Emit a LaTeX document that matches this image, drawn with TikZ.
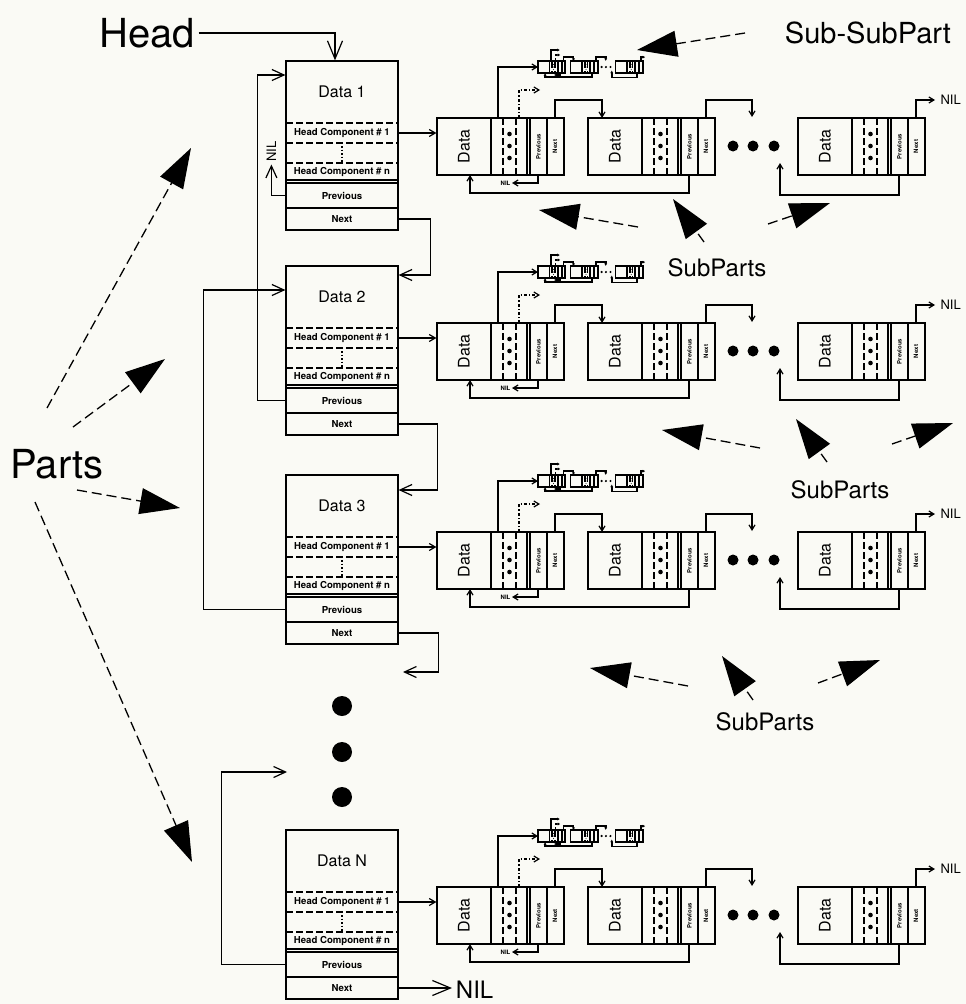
\documentclass[tikz,border=0pt]{standalone}
\usepackage{fontspec}
\setmainfont{TeX Gyre Heros}
\usetikzlibrary{arrows.meta}
\definecolor{paper}{RGB}{250,250,245}

\begin{document}
\begin{tikzpicture}[
        x=1pt, y=-1pt,
        line width=1.2pt,
        bigtxt/.style={font=\fontsize{40}{40}\selectfont},
        labeltxt/.style={font=\fontsize{24}{24}\selectfont},
        datatxt/.style={font=\fontsize{16}{16}\selectfont, minimum width=112pt, minimum height=62pt, inner sep=0pt},
        celltxt/.style={font=\bfseries\fontsize{9.6}{10}\selectfont, minimum width=112pt, inner sep=0pt},
        subdata/.style={rotate=90, font=\fontsize{16}{16}\selectfont, minimum width=57pt, minimum height=54pt, inner sep=0pt},
        coltxt/.style={rotate=90, font=\bfseries\fontsize{6}{6}\selectfont, inner sep=0pt},
        niltxt/.style={font=\fontsize{13}{13}\selectfont, inner sep=2pt},
        tinynil/.style={font=\bfseries\fontsize{6}{6}\selectfont, inner sep=1pt},
        cut/.style={dash pattern=on 7pt off 3pt},
        link/.style={-{Straight Barb[length=12pt,width=11pt]}},
        headlink/.style={-{Straight Barb[length=18pt,width=15pt]}},
        hint/.style={line width=1.3pt, dash pattern=on 10pt off 5pt, -{Triangle[length=40pt,width=26pt]}},
    ]
    \fill[paper] (0,0) rectangle (966,1004);
    \useasboundingbox (0,0) rectangle (966,1004);

    \foreach \T/\n/\lab in {61/1/Data 1, 266/2/Data 2, 475/3/Data 3, 830/N/Data N} {
        \draw (286,\T) rectangle (398,\T+169);
        \draw[cut] (286,\T+62) -- (398,\T+62) (286,\T+82) -- (398,\T+82) (286,\T+102) -- (398,\T+102);
        \draw (286,\T+119) -- (398,\T+119) (286,\T+122) -- (398,\T+122) (286,\T+147) -- (398,\T+147);
        \draw[dotted, line width=1.5pt] (342,\T+85) -- (342,\T+101);
        \node[datatxt] (data\n) at (342,\T+31) {\raisebox{-5pt}{\lab}};
        \node[celltxt] (hcone\n) at (342,\T+72) {Head Component \# 1};
        \node[celltxt] (hcn\n) at (342,\T+111) {Head Component \# n};
        \node[celltxt] (prev\n) at (342,\T+134.5) {Previous};
        \node[celltxt] (next\n) at (342,\T+158) {Next};
        % subparts, then the same chain shrunk for the sub-subparts
        \foreach \s/\ox/\oy/\lw in {1/437/57/1.2, 0.215/538/0/1.7} {
            \begin{scope}[shift={(\ox,\T+\oy)}, scale=\s, line width=\lw pt,
                    sublink/.style={-{Straight Barb[length=5pt,width=6pt,scale=\s]}}]
                \foreach \bx in {0,151,361} {
                    \draw (\bx,0) rectangle ++(127,57);
                    \draw (\bx+54,0) -- ++(0,57) (\bx+90,0) -- ++(0,57) (\bx+93,0) -- ++(0,57) (\bx+110,0) -- ++(0,57);
                    \draw[cut] (\bx+66,0) -- ++(0,57) (\bx+79,0) -- ++(0,57);
                    \foreach \yy in {16,28,40} \fill (\bx+72.5,\yy) circle (2.3pt);
                }
                \foreach \xx in {296,316,337} \fill (\xx,28) circle (5.5pt);
                \draw[sublink] (118,0) |- (165,-18) -- (165,0);
                \draw[sublink] (269,0) |- (315,-18) -- (315,-1);
                \draw[sublink] (479,0) |- (498,-18);
                \draw[sublink] (101,57) |- (75,65);
                \draw[sublink] (252,57) |- (33,75) -- (33,57);
                \draw[sublink] (462,57) |- (343,77) -- (343,45);
                \draw[sublink] (61,0) |- (101,-51);
                \draw[sublink, dash dot] (82,0) |- (103,-28);
            \end{scope}
        }
        \foreach \bx/\m in {0/a,151/b,361/c} {
            \node[subdata] (\m\n) at (464+\bx,\T+85.5) {Data};
            \node[coltxt] (\m prev\n) at (538.5+\bx,\T+85.5) {Previous};
            \node[coltxt] (\m next\n) at (555+\bx,\T+85.5) {Next};
        }
        \draw[-{Straight Barb[length=6pt,width=7pt]}] (hcone\n.east) -- (hcone\n.east -| a\n.north);
        \node[niltxt, anchor=west] (nilc\n) at (938,\T+39) {NIL};
        \node[tinynil, anchor=east] (nila\n) at (512,\T+122) {NIL};
    }

    \node[bigtxt] (head) at (147,33) {Head};
    \draw[headlink] (head.east) -| ([xshift=-7pt]data1.north);
    \draw[link] (prev1.west) -- ++(-14,0) -- ++(0,-31)
        node[niltxt, rotate=90, anchor=west] (nilone) {NIL};
    \draw[link] (prev2.west) -- ++(-28,0) |- ([yshift=17pt]data1.west);
    \draw[link] (prev3.west) -- ++(-82,0) |- ([yshift=7pt]data2.west);
    \coordinate (gapN) at (287,772);
    \draw[link] (prevN.west) -- ++(-64,0) |- (gapN);
    \draw[link] (next1.east) -- ++(32,0) |- ([yshift=22pt]data2.east);
    \draw[link] (next2.east) -- ++(39,0) |- ([yshift=16pt]data3.east);
    \coordinate (gap3) at (403,672);
    \draw[link] (next3.east) -- ++(40,0) |- (gap3);
    \node[labeltxt, anchor=west] (nilN) at (452,990) {NIL};
    \draw[headlink] (nextN.east) -- (nextN.east -| nilN.west);

    \foreach \yy in {706,752,797} \fill (342,\yy) circle (10pt);

    \node[bigtxt] (parts) at (57,464) {Parts};
    \foreach \sx/\sy/\ex/\ey in {-10/-56/191/148, 16/-37/165/359, 20/26/180/508, -22/38/192/862}
        \draw[hint] ([shift={(\sx,\sy)}]parts.center) -- (\ex,\ey);

    \node[labeltxt, font=\fontsize{29}{29}\selectfont] (subsub) at (868,33) {Sub-SubPart};
    \draw[hint] ([shift={(-123,0)}]subsub.center) -- (637,50);

    \foreach \k/\x/\y in {1/717/268, 2/840/490, 3/765/722}
        \node[labeltxt] (subparts\k) at (\x,\y) {SubParts};
    \foreach \k/\sx/\sy/\ex/\ey in {1/-79/-41/539/210, 1/-13/-26/673/199, 1/51/-44/830/203,
            2/-80/-42/662/430, 2/-13/-28/796/419, 2/52/-46/953/423,
            3/-77/-36/590/668, 3/-12/-22/722/656, 3/53/-39/880/660}
        \draw[hint] ([shift={(\sx,\sy)}]subparts\k.center) -- (\ex,\ey);
\end{tikzpicture}
\end{document}
